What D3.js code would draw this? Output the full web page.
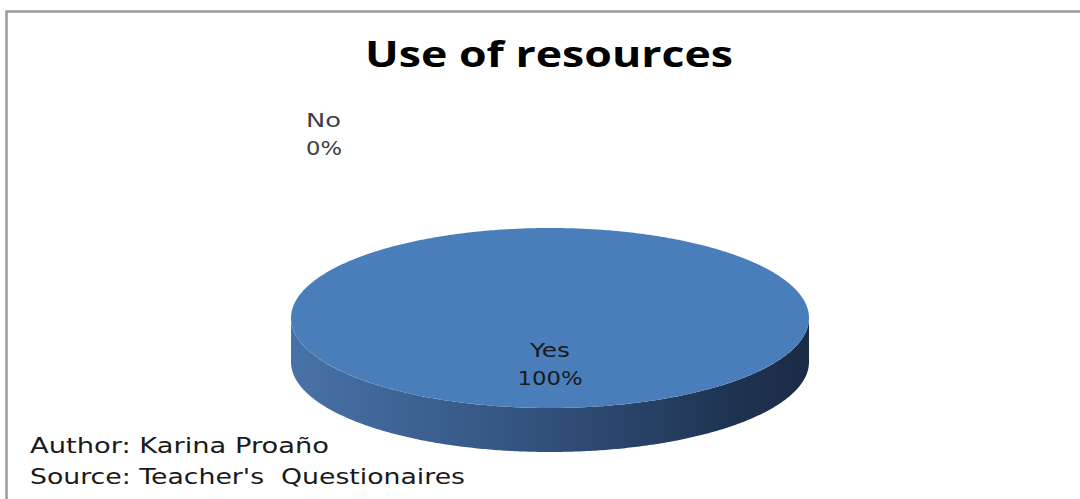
<!DOCTYPE html>
<html>
<head>
<meta charset="utf-8">
<script src="https://cdn.jsdelivr.net/npm/d3@7"></script>
<style>
  html, body { margin: 0; padding: 0; background: #ffffff; }
  svg { display: block; }
  text { white-space: pre; }
</style>
</head>
<body>
<svg id="chart" width="1080" height="499"></svg>
<script>
// Survey answers: use of resources
const categories = ["Yes", "No"];
const values = [100, 0];
const percentLabels = ["100%", "0%"];
const chartTitle = "Use of resources";
const notes = ["Author: Karina Proaño", "Source: Teacher's  Questionaires"];

const W = 1080, H = 499;
const svg = d3.select("#chart");

// Frame
svg.append("rect")
  .attr("x", 6.5).attr("y", 11.5)
  .attr("width", W + 20).attr("height", H + 20)
  .attr("fill", "#ffffff")
  .attr("stroke", "#9a9a9a").attr("stroke-width", 2.5);

// Text helper: set text fitted to a given run width
function addText(x, y, str, opts) {
  const t = svg.append("text")
    .attr("x", x).attr("y", y)
    .attr("text-anchor", opts.anchor || "start")
    .attr("font-family", opts.family)
    .attr("font-size", opts.size)
    .attr("font-weight", opts.weight || "normal")
    .attr("fill", opts.fill)
    .text(str);
  if (opts.width) t.attr("textLength", opts.width).attr("lengthAdjust", "spacingAndGlyphs");
  return t;
}

// Title
addText(549, 67, chartTitle, { anchor: "middle", family: "'Open Sans', Lato, sans-serif", size: 35, weight: "bold", fill: "#000000", width: 368 });

// 3D pie geometry
const cx = 550, cy = 318, rx = 259, ry = 90, depth = 44;
const colors = d3.scaleOrdinal().domain(categories).range(["#4a7ebb", "#be4b48"]);

const pie = d3.pie().sort(null).value(d => d.value);
const data = categories.map((c, i) => ({ name: c, value: values[i], label: percentLabels[i] }));
const arcs = pie(data);

const pt = (a, dy = 0) => [cx + rx * Math.sin(a), cy - ry * Math.cos(a) + dy];
const line = d3.line();

function sampleAngles(a0, a1) {
  const n = Math.max(2, Math.ceil(Math.abs(a1 - a0) / 0.01));
  return d3.range(n + 1).map(i => a0 + (a1 - a0) * i / n);
}

// Side gradient: lit on the left, shaded on the right
const defs = svg.append("defs");
const grad = defs.append("linearGradient")
  .attr("id", "sideGrad")
  .attr("gradientUnits", "userSpaceOnUse")
  .attr("x1", cx - rx).attr("x2", cx + rx).attr("y1", 0).attr("y2", 0);
grad.append("stop").attr("offset", "0%").attr("stop-color", "#4872a8");
grad.append("stop").attr("offset", "45%").attr("stop-color", "#33547f");
grad.append("stop").attr("offset", "85%").attr("stop-color", "#1f3352");
grad.append("stop").attr("offset", "100%").attr("stop-color", "#1a2b45");

// Front walls (visible between 3 o'clock and 9 o'clock going through 6)
arcs.filter(d => d.endAngle > d.startAngle).forEach(d => {
  const a0 = Math.max(d.startAngle, Math.PI / 2);
  const a1 = Math.min(d.endAngle, 3 * Math.PI / 2);
  if (a1 <= a0) return;
  const angs = sampleAngles(a0, a1);
  const top = angs.map(a => pt(a));
  const bottom = angs.slice().reverse().map(a => pt(a, depth));
  svg.append("path")
    .attr("d", line(top.concat(bottom)) + "Z")
    .attr("fill", d.data.name === categories[0] ? "url(#sideGrad)" : d3.color(colors(d.data.name)).darker(0.8));
});

// Top faces
arcs.filter(d => d.endAngle > d.startAngle).forEach(d => {
  const angs = sampleAngles(d.startAngle, d.endAngle);
  const full = (d.endAngle - d.startAngle) >= 2 * Math.PI - 1e-6;
  const pts = angs.map(a => pt(a));
  svg.append("path")
    .attr("d", full ? line(pts) + "Z" : line([[cx, cy]].concat(pts)) + "Z")
    .attr("fill", colors(d.data.name));
});

// Data labels
const labelFont = "'DejaVu Sans', Verdana, sans-serif";
const nameWidths = { Yes: 40, No: 35 };
const pctWidths = { "100%": 65, "0%": 36 };
arcs.forEach(d => {
  const isZero = d.endAngle === d.startAngle;
  const x = isZero ? 306 : cx;
  const y = isZero ? 127 : 357;
  const anchor = isZero ? "start" : "middle";
  const fill = isZero ? "#404040" : "#1a1a1a";
  addText(x, y, d.data.name, { anchor, family: labelFont, size: 19, fill, width: nameWidths[d.data.name] });
  addText(x, y + 28, d.data.label, { anchor, family: labelFont, size: 19, fill, width: pctWidths[d.data.label] });
});

// Footnotes
const noteWidths = [299, 435];
notes.forEach((n, i) => {
  addText(30, 453 + i * 31, n, { family: labelFont, size: 21.5, fill: "#1a1a1a", width: noteWidths[i] });
});
</script>
</body>
</html>
